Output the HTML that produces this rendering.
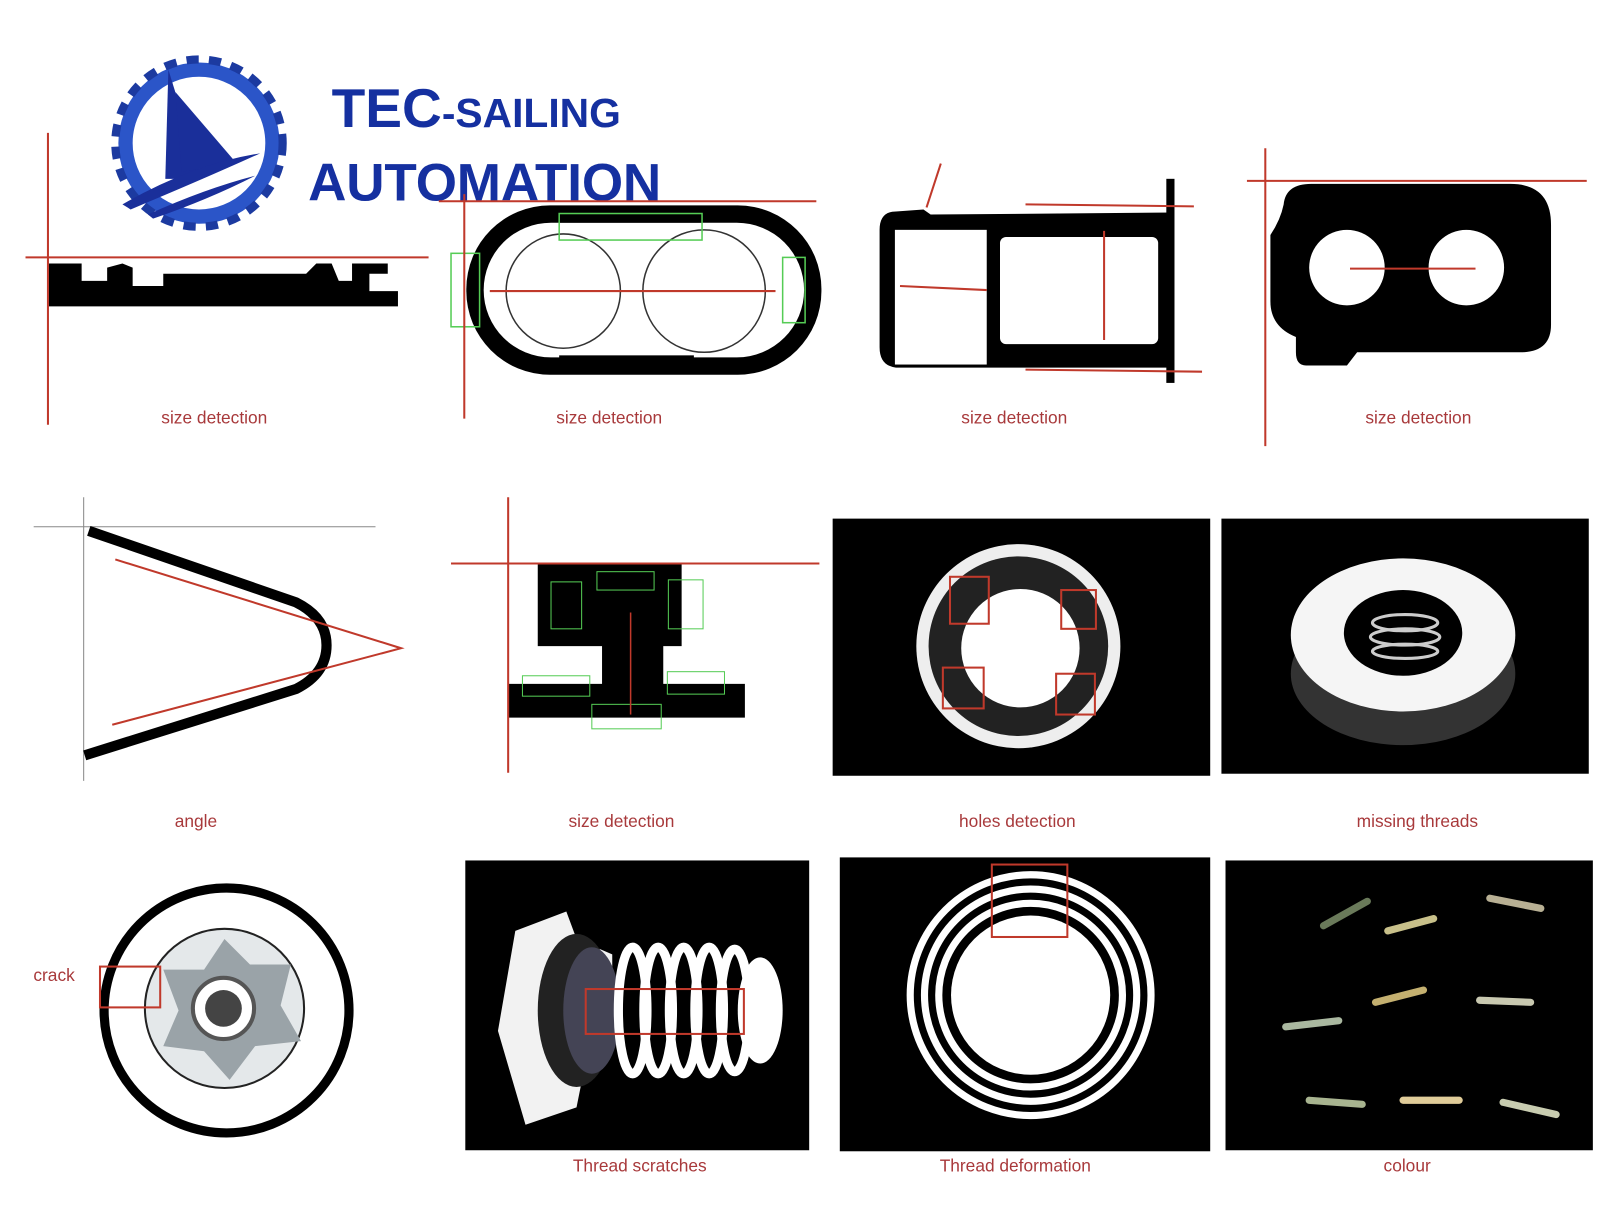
<!DOCTYPE html>
<html><head><meta charset="utf-8"><style>
html,body{margin:0;padding:0;background:#fff;}
svg{display:block;}
.lbl{font-family:"Liberation Sans",sans-serif;font-size:17px;fill:#a8393b;text-anchor:middle;}
</style></head><body>
<svg width="1600" height="1225" viewBox="0 0 1568 1200" xmlns="http://www.w3.org/2000/svg">
<rect width="1568" height="1200" fill="#fff"/>
<!-- logo -->
<g>
<circle cx="195" cy="140" r="72" fill="none" stroke="#2b55c8" stroke-width="14"/>
<circle cx="195" cy="140" r="82" fill="none" stroke="#1c3aa0" stroke-width="8" stroke-dasharray="12 10"/>
<polygon points="165,68 162,175 198,175" fill="#1a2f9a"/>
<polygon points="172,90 232,160 178,168" fill="#1a2f9a"/>
<path d="M120,200 Q190,160 255,150 Q200,175 128,205 Z" fill="#1a2f9a"/>
<path d="M145,210 Q200,185 250,172 Q205,195 150,214 Z" fill="#1a2f9a"/>
</g>
<text x="325" y="124" font-family="Liberation Sans,sans-serif" font-weight="bold" font-size="54" fill="#1530a0">TEC<tspan font-size="40">-SAILING</tspan></text>
<text x="302" y="196" font-family="Liberation Sans,sans-serif" font-weight="bold" font-size="52" fill="#1530a0" textLength="346">AUTOMATION</text>

<!-- panel 1 -->
<path d="M48,258 H80 V275 H105 V262 L120,258 L130,262 V280 H160 V268 H300 L310,258 H325 L332,275 H345 V258 H380 V268 H362 V285 H390 V300 H48 Z" fill="#000"/>
<line x1="47" y1="130" x2="47" y2="416" stroke="#c0392b" stroke-width="2"/>
<line x1="25" y1="252" x2="420" y2="252" stroke="#c0392b" stroke-width="2"/>
<text class="lbl" x="210" y="415">size detection</text>

<!-- panel 2 -->
<rect x="457" y="201" width="348" height="166" rx="82" fill="#000"/>
<rect x="474" y="218" width="314" height="132" rx="66" fill="#fff"/>
<rect x="548" y="208" width="140" height="10" fill="#000"/>
<rect x="548" y="348" width="132" height="10" fill="#000"/>
<circle cx="552" cy="285" r="56" fill="none" stroke="#333" stroke-width="1.5"/>
<circle cx="690" cy="285" r="60" fill="none" stroke="#333" stroke-width="1.5"/>
<rect x="548" y="209" width="140" height="26" fill="none" stroke="#5c5" stroke-width="1.5"/>
<rect x="442" y="248" width="28" height="72" fill="none" stroke="#5c5" stroke-width="1.5"/>
<rect x="767" y="252" width="22" height="64" fill="none" stroke="#5c5" stroke-width="1.5"/>
<line x1="480" y1="285" x2="760" y2="285" stroke="#c0392b" stroke-width="2"/>
<line x1="455" y1="190" x2="455" y2="410" stroke="#c0392b" stroke-width="2"/>
<line x1="430" y1="197" x2="800" y2="197" stroke="#c0392b" stroke-width="2"/>
<text class="lbl" x="597" y="415">size detection</text>

<!-- panel 3 -->
<path d="M878,207 L905,205 L912,210 L1150,208 V360 H878 Q862,358 862,340 V225 Q862,207 878,207 Z" fill="#000"/>
<rect x="877" y="225" width="90" height="132" fill="#fff"/>
<rect x="980" y="232" width="155" height="105" rx="6" fill="#fff"/>
<rect x="1143" y="175" width="8" height="200" fill="#000"/>
<line x1="882" y1="280" x2="967" y2="284" stroke="#c0392b" stroke-width="2"/>
<line x1="1082" y1="226" x2="1082" y2="333" stroke="#c0392b" stroke-width="2"/>
<line x1="1005" y1="200" x2="1170" y2="202" stroke="#c0392b" stroke-width="2"/>
<line x1="1005" y1="362" x2="1178" y2="364" stroke="#c0392b" stroke-width="2"/>
<line x1="922" y1="160" x2="908" y2="203" stroke="#c0392b" stroke-width="2"/>
<text class="lbl" x="994" y="415">size detection</text>

<!-- panel 4 -->
<path d="M1285,180 H1480 Q1520,180 1520,220 V318 Q1520,345 1490,345 H1330 L1320,358 H1280 Q1270,358 1270,345 V330 Q1245,320 1245,295 V230 Q1255,215 1258,200 Q1260,180 1285,180 Z" fill="#000"/>
<circle cx="1320" cy="262" r="37" fill="#fff"/>
<circle cx="1437" cy="262" r="37" fill="#fff"/>
<line x1="1323" y1="263" x2="1446" y2="263" stroke="#c0392b" stroke-width="2"/>
<line x1="1240" y1="145" x2="1240" y2="437" stroke="#c0392b" stroke-width="2"/>
<line x1="1222" y1="177" x2="1555" y2="177" stroke="#c0392b" stroke-width="2"/>
<text class="lbl" x="1390" y="415">size detection</text>

<!-- angle -->
<line x1="33" y1="516" x2="368" y2="516" stroke="#888" stroke-width="1"/>
<line x1="82" y1="487" x2="82" y2="765" stroke="#888" stroke-width="1"/>
<path d="M87,520 L290,590 Q320,605 320,632 Q320,660 290,675 L83,740" fill="none" stroke="#000" stroke-width="10"/>
<polyline points="113,548 393,635 110,710" fill="none" stroke="#c0392b" stroke-width="2"/>
<text class="lbl" x="192" y="810">angle</text>

<!-- size detection 2 -->
<path d="M527,553 H668 V633 H650 V670 H730 V703 H498 V670 H590 V633 H527 Z" fill="#000"/>
<rect x="540" y="570" width="30" height="46" fill="none" stroke="#5c5"/>
<rect x="655" y="568" width="34" height="48" fill="none" stroke="#5c5"/>
<rect x="585" y="560" width="56" height="18" fill="none" stroke="#5c5"/>
<rect x="512" y="662" width="66" height="20" fill="none" stroke="#5c5"/>
<rect x="654" y="658" width="56" height="22" fill="none" stroke="#5c5"/>
<rect x="580" y="690" width="68" height="24" fill="none" stroke="#5c5"/>
<line x1="498" y1="487" x2="498" y2="757" stroke="#c0392b" stroke-width="2"/>
<line x1="442" y1="552" x2="803" y2="552" stroke="#c0392b" stroke-width="2"/>
<line x1="618" y1="600" x2="618" y2="700" stroke="#c0392b" stroke-width="1.5"/>
<text class="lbl" x="609" y="810">size detection</text>

<!-- holes -->
<rect x="816" y="508" width="370" height="252" fill="#000"/>
<circle cx="998" cy="633" r="100" fill="#eee"/>
<circle cx="998" cy="633" r="88" fill="#222"/>
<circle cx="1000" cy="635" r="58" fill="#fff"/>
<g fill="none" stroke="#c0392b" stroke-width="2">
<rect x="931" y="565" width="38" height="46"/><rect x="1040" y="578" width="34" height="38"/>
<rect x="924" y="654" width="40" height="40"/><rect x="1035" y="660" width="38" height="40"/></g>
<text class="lbl" x="997" y="810">holes detection</text>

<!-- missing threads -->
<rect x="1197" y="508" width="360" height="250" fill="#000"/>
<ellipse cx="1375" cy="660" rx="110" ry="70" fill="#333"/>
<ellipse cx="1375" cy="622" rx="110" ry="75" fill="#f5f5f5"/>
<ellipse cx="1375" cy="620" rx="58" ry="42" fill="#000"/>
<g stroke="#ccc" stroke-width="3" fill="none">
<ellipse cx="1377" cy="610" rx="32" ry="8"/><ellipse cx="1377" cy="624" rx="34" ry="8"/><ellipse cx="1377" cy="638" rx="32" ry="7"/></g>
<text class="lbl" x="1389" y="810">missing threads</text>

<!-- crack -->
<circle cx="222" cy="990" r="120" fill="none" stroke="#000" stroke-width="9"/>
<circle cx="220" cy="988" r="78" fill="#e4e8ea" stroke="#222" stroke-width="2"/>
<path d="M220,920 L245,945 L285,945 L275,985 L295,1020 L250,1025 L225,1058 L200,1030 L160,1025 L175,990 L160,950 L200,950 Z" fill="#9aa3a8"/>
<circle cx="219" cy="988" r="30" fill="#fff" stroke="#555" stroke-width="4"/>
<circle cx="219" cy="988" r="18" fill="#444"/>
<rect x="98" y="947" width="59" height="40" fill="none" stroke="#c0392b" stroke-width="2"/>
<text class="lbl" x="53" y="961">crack</text>

<!-- thread scratches -->
<rect x="456" y="843" width="337" height="284" fill="#000"/>
<path d="M505,912 L555,893 L565,920 L600,935 L600,1030 L570,1060 L565,1085 L515,1102 L488,1010 Z" fill="#f2f2f2"/>
<ellipse cx="565" cy="990" rx="38" ry="75" fill="#222"/>
<ellipse cx="580" cy="990" rx="28" ry="62" fill="#445"/>
<g fill="none" stroke="#fff" stroke-width="9">
<ellipse cx="620" cy="990" rx="14" ry="62"/><ellipse cx="645" cy="990" rx="14" ry="62"/><ellipse cx="670" cy="990" rx="14" ry="62"/>
<ellipse cx="695" cy="990" rx="14" ry="62"/><ellipse cx="720" cy="990" rx="14" ry="60"/></g>
<ellipse cx="745" cy="990" rx="22" ry="52" fill="#fff"/>
<rect x="574" y="969" width="155" height="44" fill="none" stroke="#c0392b" stroke-width="2"/>
<text class="lbl" x="627" y="1148">Thread scratches</text>

<!-- thread deformation -->
<rect x="823" y="840" width="363" height="288" fill="#000"/>
<g fill="none" stroke="#fff">
<circle cx="1010" cy="975" r="118" stroke-width="7"/><circle cx="1010" cy="975" r="104" stroke-width="7"/>
<circle cx="1010" cy="975" r="90" stroke-width="7"/></g>
<circle cx="1010" cy="975" r="78" fill="#fff"/>
<rect x="972" y="847" width="74" height="71" fill="none" stroke="#c0392b" stroke-width="2"/>
<text class="lbl" x="995" y="1148">Thread deformation</text>

<!-- colour -->
<rect x="1201" y="843" width="360" height="284" fill="#000"/>
<g stroke-width="7" stroke-linecap="round">
<line x1="1297" y1="907" x2="1340" y2="883" stroke="#6a7a5a"/>
<line x1="1360" y1="912" x2="1405" y2="900" stroke="#c8c08a"/>
<line x1="1460" y1="880" x2="1510" y2="890" stroke="#b8b094"/>
<line x1="1348" y1="982" x2="1395" y2="970" stroke="#c4b070"/>
<line x1="1450" y1="980" x2="1500" y2="982" stroke="#c8c8b0"/>
<line x1="1260" y1="1006" x2="1312" y2="1000" stroke="#aab8a0"/>
<line x1="1283" y1="1078" x2="1335" y2="1082" stroke="#a8b490"/>
<line x1="1375" y1="1078" x2="1430" y2="1078" stroke="#e0cc99"/>
<line x1="1473" y1="1080" x2="1525" y2="1092" stroke="#c8ccb0"/></g>
<text class="lbl" x="1379" y="1148">colour</text>
</svg>
</body></html>
